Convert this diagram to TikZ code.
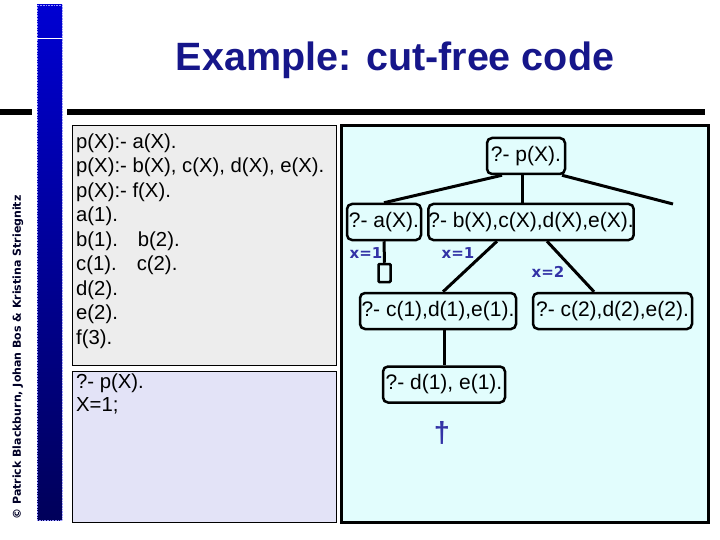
\documentclass[tikz,border=0pt]{standalone}
\usepackage{fontspec}
\setmainfont{Liberation Sans}
\newfontfamily\vfont{DejaVu Sans}
\usetikzlibrary{calc}
\definecolor{codebg}{HTML}{EDEDED}
\definecolor{querybg}{HTML}{E3E3F7}
\definecolor{treebg}{HTML}{E2FDFD}
\definecolor{lblblue}{HTML}{3333A6}
\definecolor{titleblue}{HTML}{16168A}
\definecolor{bartop}{HTML}{0000D2}
\definecolor{barbot}{HTML}{00005A}
\tikzset{
  treenode/.style={draw, line width=2.5pt, rounded corners=5pt, fill=treebg,
    minimum height=36pt, inner sep=0pt, font=\fontsize{21}{24}\selectfont},
  edge/.style={line width=3pt},
  lbl/.style={font=\vfont\bfseries\fontsize{15}{17}\selectfont, text=lblblue, inner sep=0pt},
  codeline/.style={anchor=west, inner sep=0pt, font=\fontsize{20.3}{24}\selectfont},
}
\begin{document}
\begin{tikzpicture}[x=1pt,y=-1pt]
\useasboundingbox (0,0) rectangle (720,540);
\fill[white] (0,0) rectangle (720,540);
% side bar
\shade[top color=bartop, bottom color=barbot] (37,5) rectangle (62,520);
\draw[densely dotted, line width=0.6pt, blue!40!white] (37,5) rectangle (62,520);
\draw[white, line width=1pt] (37,39) -- (62,39);
\node[rotate=90, inner sep=0pt, font=\vfont\bfseries\fontsize{11}{13}\selectfont, text=black!85!blue] (copy) at (18,357.5) {© Patrick Blackburn, Johan Bos \& Kristina Striegnitz};
% title
\node[inner sep=0pt, font=\bfseries\fontsize{39.5}{44}\selectfont, text=titleblue] (title) at (395,60) {Example: cut-free code};
\fill[black] (0,109) rectangle (32,115);
\fill[black] (67,109) rectangle (705,115);
% code box
\draw[fill=codebg, line width=1pt] (72.5,125.5) rectangle (336.5,365.5);
\node[codeline] (l1) at (76,143) {p(X):- a(X).};
\node[codeline] (l2) at (76,167.5) {p(X):- b(X), c(X), d(X), e(X).};
\node[codeline] (l3) at (76,192) {p(X):- f(X).};
\node[codeline] (l4) at (76,216.5) {a(1).};
\node[codeline] (l5) at (76,241) {b(1).\hspace{20pt}b(2).};
\node[codeline] (l6) at (76,265.5) {c(1).\hspace{20pt}c(2).};
\node[codeline] (l7) at (76,290) {d(2).};
\node[codeline] (l8) at (76,314.5) {e(2).};
\node[codeline] (l9) at (76,339) {f(3).};
% query box
\draw[fill=querybg, line width=1pt] (72.5,371.5) rectangle (336.5,522);
\node[codeline] (q1) at (76,383) {?- p(X).};
\node[codeline] (q2) at (76,406) {X=1;};
% tree box
\draw[fill=treebg, line width=3pt] (341.5,125.5) rectangle (708.5,522);
\node[treenode, minimum width=78pt] (root) at (526,156) {?- p(X).};
\node[treenode, minimum width=74pt] (a) at (384,222) {?- a(X).};
\node[treenode, minimum width=198pt] (b) at (531,222) {?- b(X),c(X),d(X),e(X).};
\node[treenode, minimum width=156pt] (c1) at (438,311) {?- c(1),d(1),e(1).};
\node[treenode, minimum width=159pt] (c2) at (612.5,311) {?- c(2),d(2),e(2).};
\node[treenode, minimum width=122pt] (d1) at (444,384.5) {?- d(1), e(1).};
\node[draw, line width=2.5pt, rounded corners=1pt, minimum width=12pt, minimum height=18pt, inner sep=0pt] (sq) at (384.5,273) {};
\coordinate (fend) at (673,204);
\draw[edge] ($(root.south)+(-24,0)$) -- (a.north);
\draw[edge] ($(root.south)+(-4,0)$) -- ($(b.north)+(-9,0)$);
\draw[edge] ($(root.south)+(36,0)$) -- (fend);
\draw[edge] (a.south) -- (sq.north);
\draw[edge] ($(b.south)+(-34,0)$) -- ($(c1.north)+(5,0)$);
\draw[edge] ($(b.south)+(16,0)$) -- ($(c2.north)+(-18.5,0)$);
\draw[edge] ($(c1.south)+(6,0)$) -- (d1.north);
\node[lbl] (x1) at (366,253) {x=1};
\node[lbl] (x2) at (458,253) {x=1};
\node[lbl] (x3) at (548,272) {x=2};
\node[inner sep=0pt, text=lblblue, font=\bfseries\fontsize{29}{32}\selectfont] (dag) at (442,433) {†};
\end{tikzpicture}
\end{document}
